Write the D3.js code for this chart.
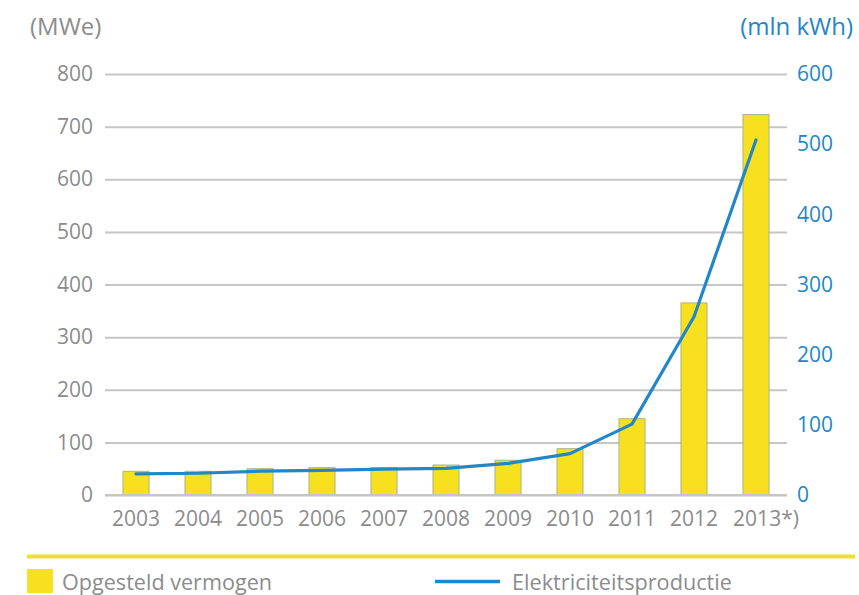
<!DOCTYPE html>
<html>
<head>
<meta charset="utf-8">
<script src="https://cdn.jsdelivr.net/npm/d3@7"></script>
<style>
  html, body { margin: 0; padding: 0; background: #fff; }
  svg { display: block; }
  text { font-family: "Open Sans", "Noto Sans", sans-serif; }
</style>
</head>
<body>
<svg id="chart" width="859" height="595"></svg>
<script>
// Years on the category axis
const years = ["2003", "2004", "2005", "2006", "2007", "2008", "2009", "2010", "2011", "2012", "2013*)"];
// Installed capacity (MWe), left axis
const capacity = [45, 45, 50, 52, 52, 57, 66, 88, 145, 365, 723];
// Electricity production (mln kWh), right axis
const production = [30, 31, 34, 35, 37, 38, 45, 59, 101, 254, 506];
// Axis ticks
const leftTicks = [0, 100, 200, 300, 400, 500, 600, 700, 800];
const rightTicks = [0, 100, 200, 300, 400, 500, 600];

const svg = d3.select("#chart");
const plotLeft = 105, plotRight = 787, plotTop = 74, plotBottom = 495;

const x = d3.scaleBand().domain(years).range([plotLeft, plotRight]).paddingInner(0.58).paddingOuter(0.29);
const yL = d3.scaleLinear().domain([0, 800]).range([plotBottom, plotTop]);
const yR = d3.scaleLinear().domain([0, 600]).range([plotBottom, plotTop]);

const grey = "#8c8c8c";
const blue = "#2287c9";
const yellow = "#f7e11e";
const tickFont = 21;

// Gridlines + left labels
const leftAxis = d3.axisLeft(yL).tickValues(leftTicks).tickSize(-(plotRight - plotLeft)).tickPadding(12);
const gL = svg.append("g").attr("transform", `translate(${plotLeft},0)`).call(leftAxis);
gL.select(".domain").remove();
gL.selectAll(".tick line").attr("stroke", "#c6c6c6").attr("stroke-width", 2);
gL.selectAll(".tick text").attr("fill", grey).attr("font-size", tickFont).attr("font-family", "Open Sans, sans-serif");

// Right labels
const rightAxis = d3.axisRight(yR).tickValues(rightTicks).tickSize(0).tickPadding(10);
const gR = svg.append("g").attr("transform", `translate(${plotRight},0)`).call(rightAxis);
gR.select(".domain").remove();
gR.selectAll(".tick text").attr("fill", blue).attr("font-size", tickFont).attr("font-family", "Open Sans, sans-serif");

// Bars
svg.append("g").selectAll("rect").data(capacity).join("rect")
  .attr("x", (d, i) => x(years[i]))
  .attr("y", d => yL(d))
  .attr("width", x.bandwidth())
  .attr("height", d => yL(0) - yL(d))
  .attr("fill", yellow)
  .attr("stroke", "#a9b48a")
  .attr("stroke-width", 1);

// Baseline
svg.append("line").attr("x1", plotLeft).attr("x2", plotRight).attr("y1", yL(0)).attr("y2", yL(0))
  .attr("stroke", "#c6c6c6").attr("stroke-width", 2);

// Production line
const line = d3.line()
  .x((d, i) => x(years[i]) + x.bandwidth() / 2)
  .y(d => yR(d));
svg.append("path").datum(production).attr("d", line)
  .attr("fill", "none").attr("stroke", blue).attr("stroke-width", 3.2)
  .attr("stroke-linejoin", "round").attr("stroke-linecap", "round");

// Category labels
const xAxis = d3.axisBottom(x).tickSize(0).tickPadding(16);
const gX = svg.append("g").attr("transform", `translate(0,${plotBottom})`).call(xAxis);
gX.select(".domain").remove();
gX.selectAll(".tick text").attr("fill", grey).attr("font-size", tickFont).attr("font-family", "Open Sans, sans-serif");
gX.selectAll(".tick text").filter(d => d === "2013*)").attr("dx", 10);

// Unit titles
svg.append("text").attr("x", 30).attr("y", 35).attr("fill", grey).attr("font-size", 24).text("(MWe)");
svg.append("text").attr("x", 853).attr("y", 35).attr("text-anchor", "end").attr("fill", blue).attr("font-size", 24).text("(mln kWh)");

// Separator rule
svg.append("line").attr("x1", 27).attr("x2", 855).attr("y1", 556.5).attr("y2", 556.5)
  .attr("stroke", "#f2e02a").attr("stroke-width", 4);

// Legend
svg.append("rect").attr("x", 27).attr("y", 569).attr("width", 26).attr("height", 24).attr("fill", yellow);
svg.append("text").attr("x", 62).attr("y", 590).attr("fill", grey).attr("font-size", 21)
  .attr("textLength", 210).attr("lengthAdjust", "spacingAndGlyphs").text("Opgesteld vermogen");
svg.append("line").attr("x1", 435).attr("x2", 500).attr("y1", 581.5).attr("y2", 581.5)
  .attr("stroke", blue).attr("stroke-width", 3.5);
svg.append("text").attr("x", 512).attr("y", 590).attr("fill", grey).attr("font-size", 21)
  .attr("textLength", 220).attr("lengthAdjust", "spacingAndGlyphs").text("Elektriciteitsproductie");
</script>
</body>
</html>
